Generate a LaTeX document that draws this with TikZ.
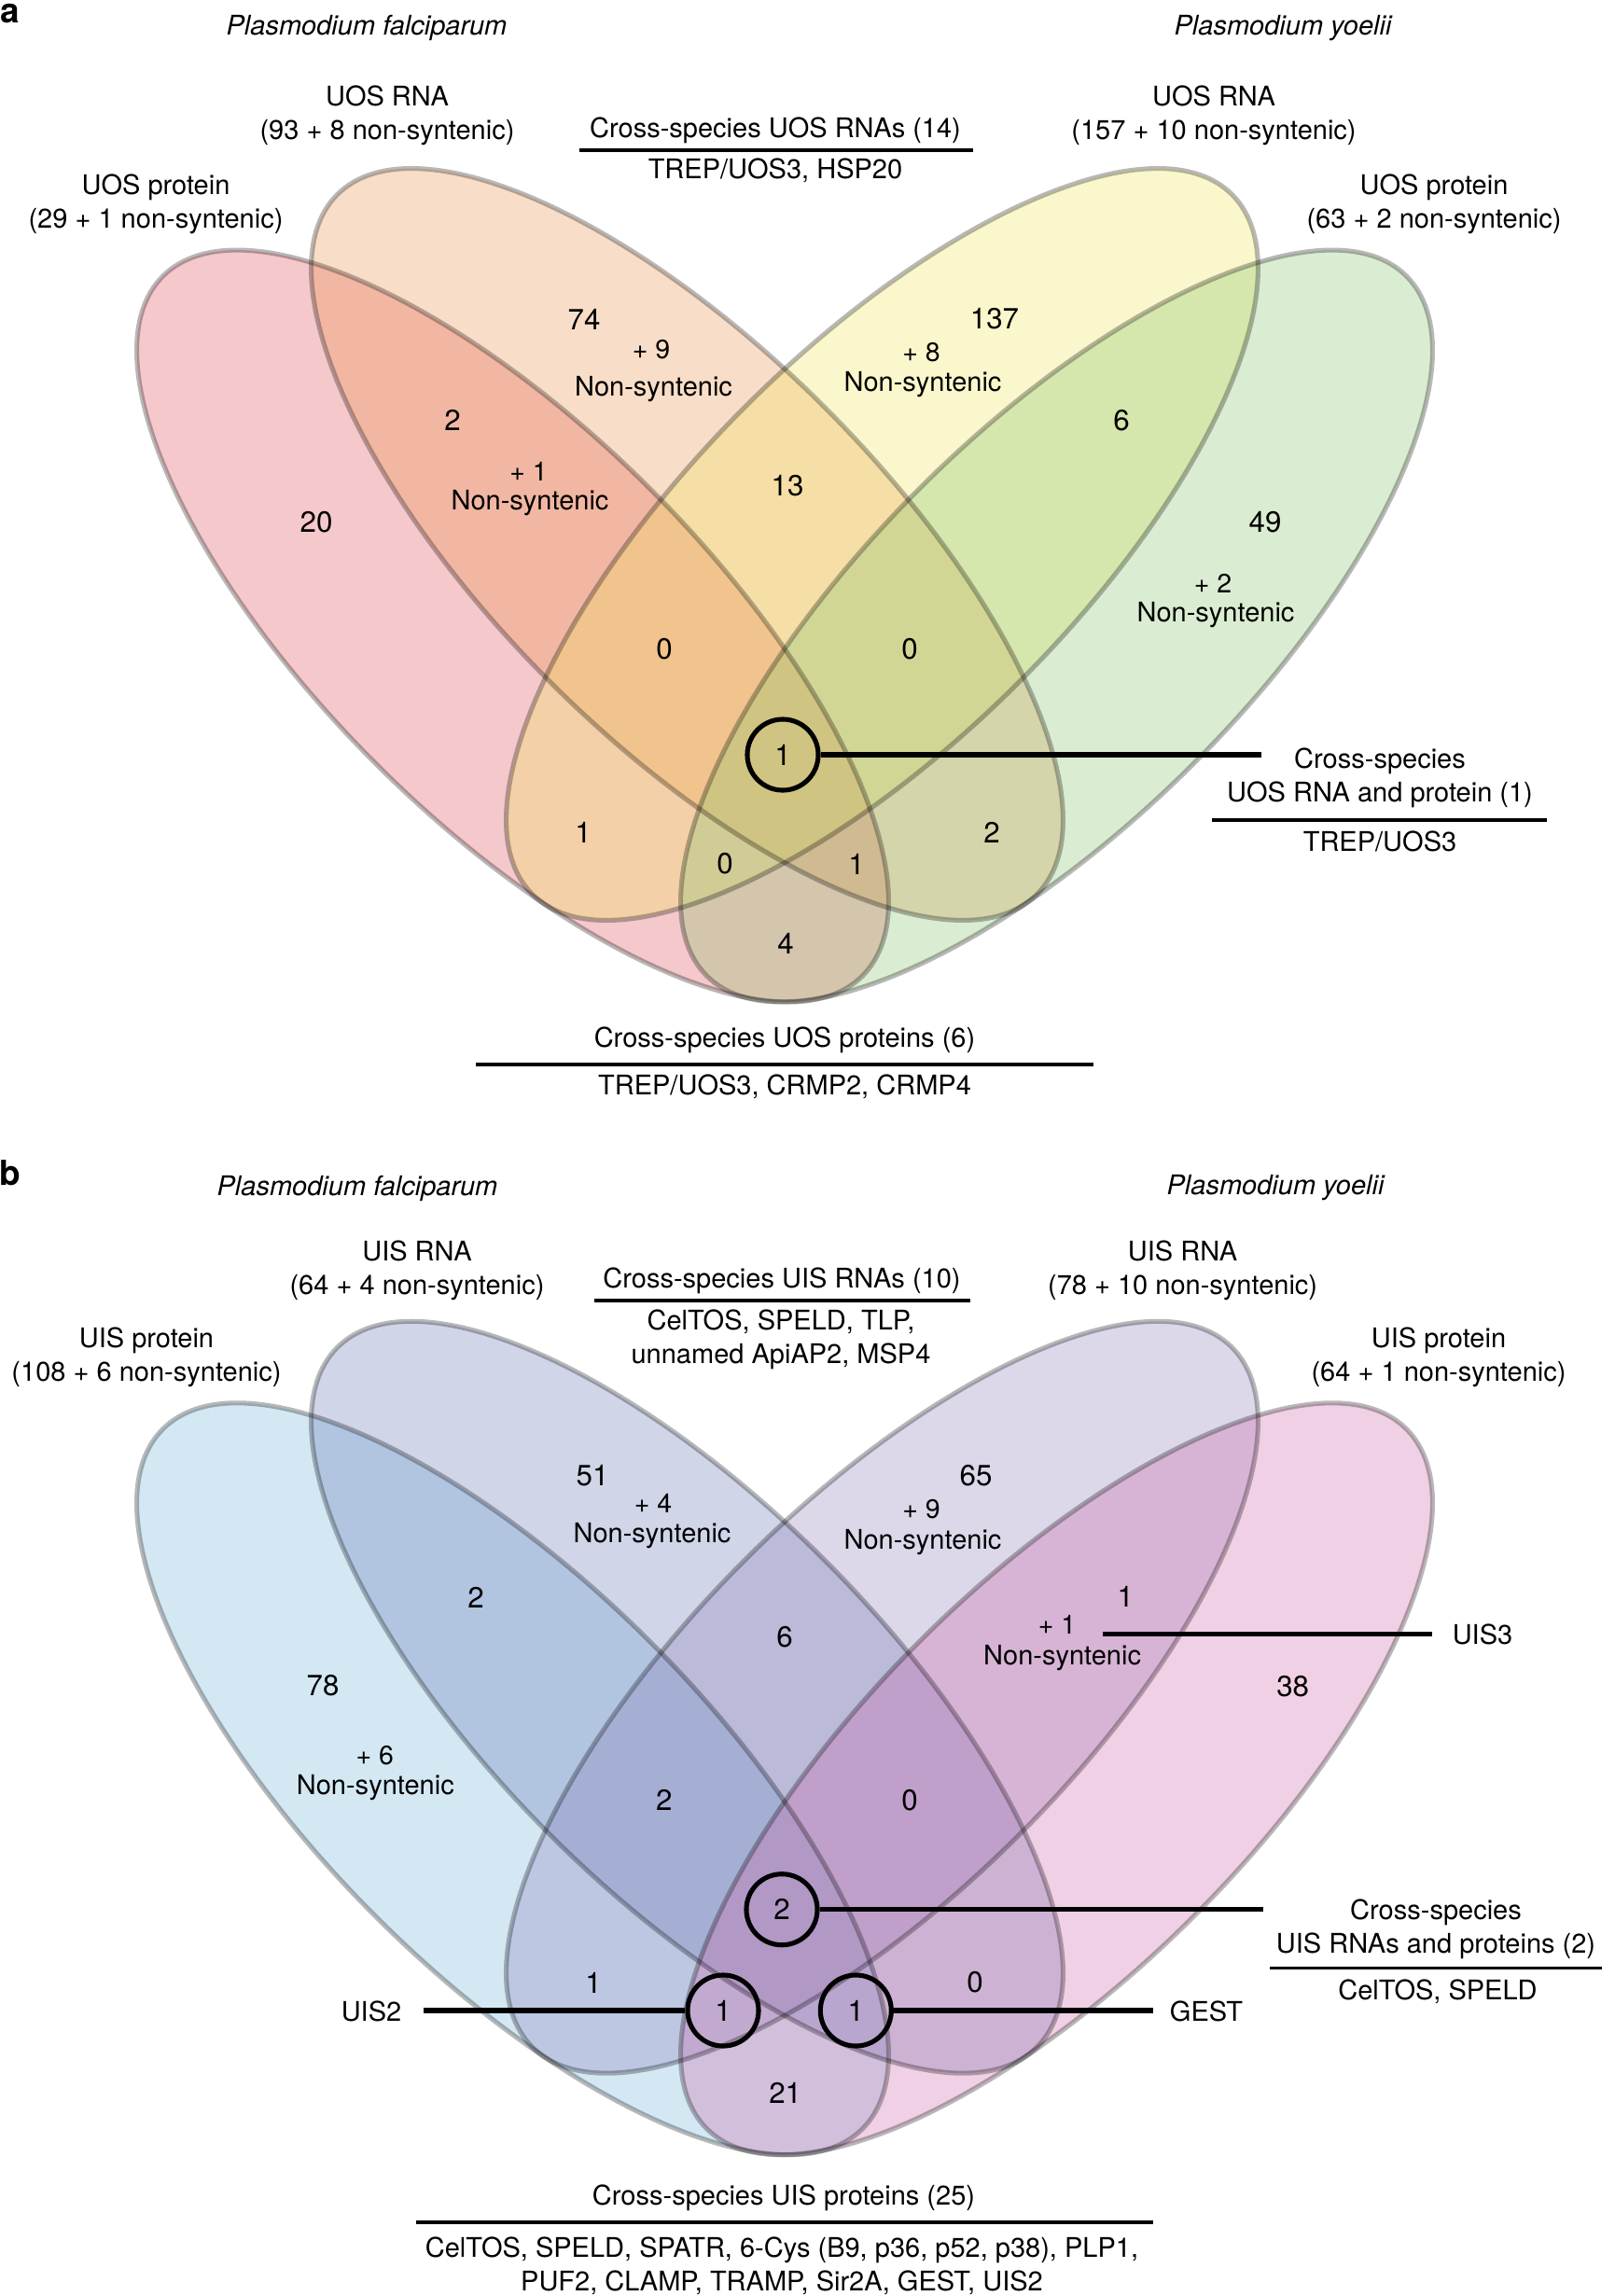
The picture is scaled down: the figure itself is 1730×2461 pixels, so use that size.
\documentclass[tikz,border=0pt]{standalone}
\usepackage{fontspec}
\setmainfont{TeX Gyre Heros}
\usetikzlibrary{shapes,backgrounds}

\definecolor{pfprotA}{RGB}{222,72,82}
\definecolor{pfrnaA}{RGB}{232,145,72}
\definecolor{pyrnaA}{RGB}{238,228,88}
\definecolor{pyprotA}{RGB}{132,195,105}
\definecolor{pfprotB}{RGB}{111,178,219}
\definecolor{pfrnaB}{RGB}{98,115,178}
\definecolor{pyrnaB}{RGB}{139,125,185}
\definecolor{pyprotB}{RGB}{205,98,165}

\begin{document}
\begin{tikzpicture}[x=0.01cm,y=0.01cm,
  venn/.style={fill=#1,fill opacity=0.3},
  rim/.style={draw=black,draw opacity=0.28,line width=1.45pt},
  txt/.style={font=\fontsize{8.25}{10.24}\selectfont,align=center,inner sep=0pt},
  num/.style={font=\fontsize{8.9}{10.5}\selectfont,inner sep=0pt},
  plus/.style={font=\fontsize{8.1}{9.5}\selectfont,inner sep=0pt},
  spec/.style={font=\fontsize{8.25}{10}\selectfont\itshape,inner sep=0pt},
  tag/.style={font=\fontsize{10.5}{12}\selectfont\bfseries,inner sep=0pt},
  hit/.style={circle,draw,line width=1.45pt,minimum size=0.76cm,inner sep=0pt,font=\fontsize{8.9}{10.5}\selectfont},
  lead/.style={line width=1.45pt},
  bar/.style={line width=1pt}]
\useasboundingbox (0,0) rectangle (1730,-2461);

% panel a
\fill[venn=pfprotA,rotate around={-45:(549.5,-671)}] (549.5,-671) ellipse [x radius=5.3cm,y radius=2.08cm];
\fill[venn=pfrnaA,rotate around={-45:(736.5,-583.5)}] (736.5,-583.5) ellipse [x radius=5.3cm,y radius=2.08cm];
\fill[venn=pyrnaA,rotate around={45:(945.5,-583.5)}] (945.5,-583.5) ellipse [x radius=5.3cm,y radius=2.08cm];
\fill[venn=pyprotA,rotate around={45:(1132.5,-671)}] (1132.5,-671) ellipse [x radius=5.3cm,y radius=2.08cm];
\draw[rim,rotate around={-45:(549.5,-671)}] (549.5,-671) ellipse [x radius=5.3cm,y radius=2.08cm];
\draw[rim,rotate around={-45:(736.5,-583.5)}] (736.5,-583.5) ellipse [x radius=5.3cm,y radius=2.08cm];
\draw[rim,rotate around={45:(945.5,-583.5)}] (945.5,-583.5) ellipse [x radius=5.3cm,y radius=2.08cm];
\draw[rim,rotate around={45:(1132.5,-671)}] (1132.5,-671) ellipse [x radius=5.3cm,y radius=2.08cm];

\node[tag] (tagA) at (11,-14.5) {a};
\node[spec] (pfA) at (393,-30) {Plasmodium falciparum};
\node[spec] (pyA) at (1375,-30) {Plasmodium yoelii};
\node[txt] (pfrnaA) at (415,-124) {UOS RNA\\(93 + 8 non-syntenic)};
\node[txt] (pyrnaA) at (1301,-124) {UOS RNA\\(157 + 10 non-syntenic)};
\node[txt] (pfprotA) at (167,-219) {UOS protein\\(29 + 1 non-syntenic)};
\node[txt] (pyprotA) at (1537,-219) {UOS protein\\(63 + 2 non-syntenic)};
\node[txt] (rnahdA) at (831,-140) {Cross-species UOS RNAs (14)};
\draw[bar] (620.5,-161) -- (1042.6,-161);
\node[txt] (rnalsA) at (831,-183) {TREP/UOS3, HSP20};

\node[num] (rA1) at (626,-342) {74};
\node[plus] (rA1p) at (698,-375) {+ 9};
\node[txt] (rA1n) at (700.5,-417) {Non-syntenic};
\node[num] (rA2) at (1066,-342) {137};
\node[plus] (rA2p) at (987.5,-378) {+ 8};
\node[txt] (rA2n) at (989,-412.5) {Non-syntenic};
\node[num] (rA3) at (485,-450) {2};
\node[plus] (rA3p) at (566.5,-505) {+ 1};
\node[txt] (rA3n) at (568,-539) {Non-syntenic};
\node[num] (rA4) at (844,-520.5) {13};
\node[num] (rA5) at (1202,-451) {6};
\node[num] (rA6) at (339,-560) {20};
\node[num] (rA7) at (1356,-560) {49};
\node[plus] (rA7p) at (1300,-625) {+ 2};
\node[txt] (rA7n) at (1303,-659) {Non-syntenic};
\node[num] (rA8) at (712,-696) {0};
\node[num] (rA9) at (975,-696) {0};
\node[hit] (hitA) at (839,-809) {1};
\node[num] (rA10) at (625,-892) {1};
\node[num] (rA11) at (777,-926) {0};
\node[num] (rA12) at (918,-926) {1};
\node[num] (rA13) at (1063,-892) {2};
\node[num] (rA14) at (842,-1011) {4};

\coordinate (endA) at (1352,-809);
\draw[lead] (hitA) -- (endA);
\node[txt] (bothA) at (1479,-833.5) {Cross-species\\UOS RNA and protein (1)};
\draw[bar] (1299,-879) -- (1658,-879);
\node[txt] (bothlsA) at (1479,-902) {TREP/UOS3};
\node[txt] (prothdA) at (841,-1115) {Cross-species UOS proteins (6)};
\draw[bar] (510,-1141) -- (1172,-1141);
\node[txt] (protlsA) at (841,-1164.5) {TREP/UOS3, CRMP2, CRMP4};

% panel b
\begin{scope}[yshift=-12.35cm]
\fill[venn=pfprotB,rotate around={-45:(549.5,-671)}] (549.5,-671) ellipse [x radius=5.3cm,y radius=2.08cm];
\fill[venn=pfrnaB,rotate around={-45:(736.5,-583.5)}] (736.5,-583.5) ellipse [x radius=5.3cm,y radius=2.08cm];
\fill[venn=pyrnaB,rotate around={45:(945.5,-583.5)}] (945.5,-583.5) ellipse [x radius=5.3cm,y radius=2.08cm];
\fill[venn=pyprotB,rotate around={45:(1132.5,-671)}] (1132.5,-671) ellipse [x radius=5.3cm,y radius=2.08cm];
\draw[rim,rotate around={-45:(549.5,-671)}] (549.5,-671) ellipse [x radius=5.3cm,y radius=2.08cm];
\draw[rim,rotate around={-45:(736.5,-583.5)}] (736.5,-583.5) ellipse [x radius=5.3cm,y radius=2.08cm];
\draw[rim,rotate around={45:(945.5,-583.5)}] (945.5,-583.5) ellipse [x radius=5.3cm,y radius=2.08cm];
\draw[rim,rotate around={45:(1132.5,-671)}] (1132.5,-671) ellipse [x radius=5.3cm,y radius=2.08cm];
\end{scope}

\node[tag] (tagB) at (11,-1257) {b};
\node[spec] (pfB) at (383,-1273.5) {Plasmodium falciparum};
\node[spec] (pyB) at (1367,-1273.5) {Plasmodium yoelii};
\node[txt] (pfrnaB) at (447,-1361.5) {UIS RNA\\(64 + 4 non-syntenic)};
\node[txt] (pyrnaB) at (1267.6,-1361.5) {UIS RNA\\(78 + 10 non-syntenic)};
\node[txt] (pfprotB) at (157,-1455) {UIS protein\\(108 + 6 non-syntenic)};
\node[txt] (pyprotB) at (1542,-1455) {UIS protein\\(64 + 1 non-syntenic)};
\node[txt] (rnahdB) at (838,-1373) {Cross-species UIS RNAs (10)};
\draw[bar] (637,-1394) -- (1040,-1394);
\node[txt] (rnalsB) at (837,-1436) {CelTOS, SPELD, TLP,\\unnamed ApiAP2, MSP4};

\node[num] (rB1) at (635,-1582) {51};
\node[plus] (rB1p) at (700,-1611.7) {+ 4};
\node[txt] (rB1n) at (699,-1646) {Non-syntenic};
\node[num] (rB2) at (1046,-1582) {65};
\node[plus] (rB2p) at (987.5,-1617.6) {+ 9};
\node[txt] (rB2n) at (989,-1653) {Non-syntenic};
\node[num] (rB3) at (510,-1712.7) {2};
\node[num] (rB4) at (1206.4,-1711.7) {1};
\node[plus] (rB4p) at (1133,-1741.7) {+ 1};
\node[txt] (rB4n) at (1138.6,-1776.7) {Non-syntenic};
\node[num] (rB5) at (841,-1754.5) {6};
\node[num] (rB6) at (346,-1806.7) {78};
\node[num] (rB7) at (1385.7,-1807.3) {38};
\node[plus] (rB6p) at (401.7,-1881.7) {+ 6};
\node[txt] (rB6n) at (402.3,-1916) {Non-syntenic};
\node[num] (rB8) at (711.7,-1929.3) {2};
\node[num] (rB9) at (975,-1929.3) {0};
\node[hit] (hitB) at (838,-2046.7) {2};
\node[num] (rB10) at (636,-2125) {1};
\node[num] (rB11) at (1045,-2125) {0};
\node[hit] (hitL) at (775,-2155) {1};
\node[hit] (hitR) at (917.3,-2155) {1};
\node[num] (rB12) at (841.7,-2243.3) {21};

\coordinate (uis3s) at (1182,-1751.7);
\coordinate (uis3e) at (1535,-1751.7);
\draw[lead] (uis3s) -- (uis3e);
\node[txt] (uis3) at (1589,-1752) {UIS3};
\coordinate (uis2e) at (453.6,-2155);
\draw[lead] (uis2e) -- (hitL);
\node[txt] (uis2) at (398,-2156) {UIS2};
\coordinate (geste) at (1236,-2155);
\draw[lead] (hitR) -- (geste);
\node[txt] (gest) at (1293,-2156) {GEST};
\coordinate (endB) at (1353.6,-2046.7);
\draw[lead] (hitB) -- (endB);
\node[txt] (bothB) at (1539,-2067.5) {Cross-species\\UIS RNAs and proteins (2)};
\draw[bar] (1361,-2109.7) -- (1717,-2109.7);
\node[txt] (bothlsB) at (1541,-2135) {CelTOS, SPELD};
\node[txt] (prothdB) at (840,-2356) {Cross-species UIS proteins (25)};
\draw[bar] (445.5,-2382) -- (1236,-2382);
\node[txt] (protlsB) at (838,-2429) {CelTOS, SPELD, SPATR, 6-Cys (B9, p36, p52, p38), PLP1,\\PUF2, CLAMP, TRAMP, Sir2A, GEST, UIS2};

\end{tikzpicture}
\end{document}
